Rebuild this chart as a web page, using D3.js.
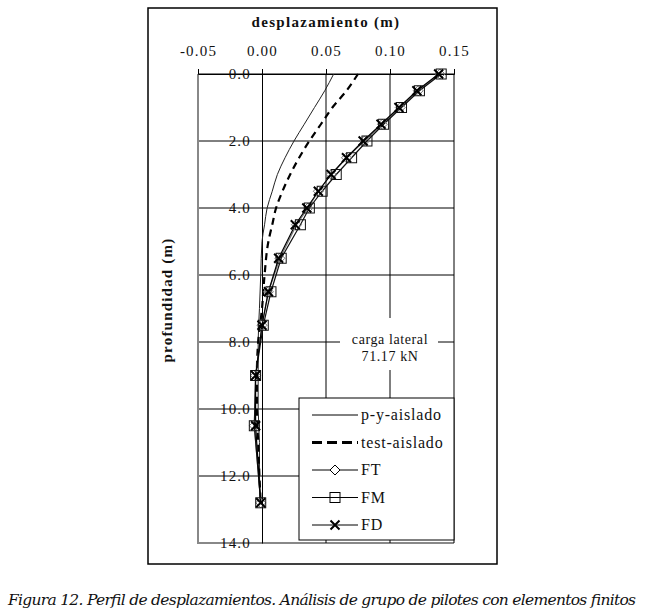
<!DOCTYPE html>
<html>
<head>
<meta charset="utf-8">
<script src="https://cdn.jsdelivr.net/npm/d3@7"></script>
<style>
  body { margin: 0; background: #fff; }
  svg text { font-family: "Liberation Serif", serif; fill: #111; }
</style>
</head>
<body>
<svg id="chart" width="650" height="611"></svg>
<script>
// depths (m) where the FE models were sampled
const depthFE = [0, 0.5, 1, 1.5, 2, 2.5, 3, 3.5, 4, 4.5, 5.5, 6.5, 7.5, 9, 10.5, 12.8];
const seriesFT = [0.139, 0.122, 0.108, 0.094, 0.080, 0.066, 0.054, 0.044, 0.036, 0.027, 0.014, 0.005, 0.000, -0.005, -0.006, -0.001];
const seriesFM = [0.140, 0.123, 0.109, 0.095, 0.082, 0.070, 0.058, 0.047, 0.037, 0.030, 0.015, 0.007, 0.001, -0.005, -0.006, -0.001];
const seriesFD = [0.138, 0.121, 0.107, 0.093, 0.079, 0.066, 0.054, 0.044, 0.035, 0.026, 0.013, 0.005, 0.000, -0.005, -0.005, -0.001];

// isolated pile curves
const depthIso = [0, 0.5, 1, 1.5, 2, 2.5, 3, 3.5, 4, 4.5, 5, 6, 7, 8, 9, 10, 11, 12, 12.8];
const seriesPY = [0.056, 0.049, 0.041, 0.033, 0.025, 0.018, 0.012, 0.008, 0.004, 0.002, 0.000, -0.001, -0.002, -0.003, -0.003, -0.003, -0.002, -0.002, -0.001];
const seriesTest = [0.075, 0.066, 0.055, 0.046, 0.037, 0.029, 0.022, 0.016, 0.011, 0.008, 0.005, 0.002, 0.000, -0.003, -0.004, -0.004, -0.003, -0.002, -0.001];

const xTicks = [-0.05, 0, 0.05, 0.10, 0.15];
const yTicks = [0, 2, 4, 6, 8, 10, 12, 14];
const legendLabels = ['p-y-aislado', 'test-aislado', 'FT', 'FM', 'FD'];

const svg = d3.select('#chart');
const serif = '"Liberation Serif", serif';

// outer frame
svg.append('rect')
    .attr('x', 148).attr('y', 8).attr('width', 349).attr('height', 556)
    .attr('fill', 'none').attr('stroke', '#000').attr('stroke-width', 1.5);

const x = d3.scaleLinear().domain([-0.05, 0.15]).range([198, 454]);
const y = d3.scaleLinear().domain([0, 14]).range([74, 543]);

// horizontal gridlines
svg.append('g')
    .selectAll('line')
    .data(yTicks)
    .join('line')
    .attr('x1', x(-0.05)).attr('x2', x(0.15))
    .attr('y1', d => y(d)).attr('y2', d => y(d))
    .attr('stroke', d => d === 14 ? '#888' : '#000')
    .attr('stroke-width', d => d === 14 ? 2 : 1);

// vertical gridlines
svg.append('g')
    .selectAll('line')
    .data([0.05, 0.10, 0.15])
    .join('line')
    .attr('x1', d => x(d)).attr('x2', d => x(d))
    .attr('y1', y(0)).attr('y2', y(14))
    .attr('stroke', '#000').attr('stroke-width', 1);

// left border is grey
svg.append('line')
    .attr('x1', x(-0.05)).attr('x2', x(-0.05))
    .attr('y1', y(0)).attr('y2', y(14) + 1)
    .attr('stroke', '#888').attr('stroke-width', 2);

// top axis
const fmt = d => d3.format('.2f')(d).replace('\u2212', '-');
const xAxis = svg.append('g')
    .attr('transform', `translate(0,${y(0)})`)
    .call(d3.axisTop(x).tickValues(xTicks).tickSize(5).tickPadding(13).tickFormat(fmt));
xAxis.select('.domain').attr('stroke', '#000');
xAxis.selectAll('text')
    .style('font-family', serif)
    .attr('font-size', 15).attr('letter-spacing', 1.2);

// vertical axis at x = 0
const yAxis = svg.append('g')
    .attr('transform', `translate(${x(0)},0)`)
    .call(d3.axisLeft(y).tickValues(yTicks).tickSize(0).tickPadding(11).tickFormat(d3.format('.1f')));
yAxis.select('.domain').attr('stroke', '#000');
yAxis.selectAll('text')
    .style('font-family', serif)
    .attr('font-size', 15).attr('letter-spacing', 1.2).attr('fill', '#333');

// axis titles
svg.append('text')
    .attr('x', 326).attr('y', 27)
    .attr('text-anchor', 'middle')
    .attr('font-size', 15).attr('font-weight', 'bold').attr('letter-spacing', 1.3)
    .text('desplazamiento (m)');

svg.append('text')
    .attr('transform', 'translate(172,300) rotate(-90)')
    .attr('text-anchor', 'middle')
    .attr('font-size', 15).attr('font-weight', 'bold').attr('letter-spacing', 1.2)
    .text('profundidad (m)');

// lines
const isoLine = vals => d3.line()
    .x((d, i) => x(vals[i]))
    .y(d => y(d))
    .curve(d3.curveMonotoneY)(depthIso);

const feLine = vals => d3.line()
    .x((d, i) => x(vals[i]))
    .y(d => y(d))(depthFE);

svg.append('path')
    .attr('d', isoLine(seriesPY))
    .attr('fill', 'none').attr('stroke', '#222').attr('stroke-width', 1);

svg.append('path')
    .attr('d', isoLine(seriesTest))
    .attr('fill', 'none').attr('stroke', '#000').attr('stroke-width', 2.2)
    .attr('stroke-dasharray', '7,5');

const feSeries = [
    { vals: seriesFT, marker: 'diamond', color: '#777' },
    { vals: seriesFM, marker: 'square', color: '#111' },
    { vals: seriesFD, marker: 'cross', color: '#000' }
];

function drawMarker(g, type, cx, cy, color, fill) {
    if (type === 'diamond') {
        g.append('path')
            .attr('d', `M${cx},${cy - 5}L${cx + 5},${cy}L${cx},${cy + 5}L${cx - 5},${cy}Z`)
            .attr('fill', fill).attr('stroke', color).attr('stroke-width', 1);
    } else if (type === 'square') {
        g.append('rect')
            .attr('x', cx - 5).attr('y', cy - 5).attr('width', 10).attr('height', 10)
            .attr('fill', fill).attr('stroke', color).attr('stroke-width', 1);
    } else {
        g.append('path')
            .attr('d', `M${cx - 4.5},${cy - 4.5}L${cx + 4.5},${cy + 4.5}M${cx - 4.5},${cy + 4.5}L${cx + 4.5},${cy - 4.5}`)
            .attr('stroke', color).attr('stroke-width', 2);
    }
}

feSeries.forEach(s => {
    svg.append('path')
        .attr('d', feLine(s.vals))
        .attr('fill', 'none').attr('stroke', s.color).attr('stroke-width', 1.2);
});
feSeries.forEach(s => {
    const g = svg.append('g');
    depthFE.forEach((d, i) => drawMarker(g, s.marker, x(s.vals[i]), y(d), s.color, 'none'));
});

// load annotation
svg.append('rect')
    .attr('x', 340).attr('y', 318).attr('width', 98).attr('height', 52)
    .attr('fill', '#fff');
svg.append('text')
    .attr('x', x(0.10)).attr('y', 344)
    .attr('text-anchor', 'middle').attr('font-size', 14).attr('letter-spacing', 0.6)
    .text('carga lateral');
svg.append('text')
    .attr('x', x(0.10)).attr('y', 361)
    .attr('text-anchor', 'middle').attr('font-size', 14).attr('letter-spacing', 0.6)
    .text('71.17 kN');

// legend
const legend = svg.append('g');
legend.append('rect')
    .attr('x', 299).attr('y', 398).attr('width', 155).attr('height', 142)
    .attr('fill', '#fff').attr('stroke', '#000').attr('stroke-width', 1);

const rowY = d3.scalePoint().domain(legendLabels).range([415, 525]);
legendLabels.forEach((label, i) => {
    const ry = rowY(label);
    const ln = legend.append('line')
        .attr('x1', 312).attr('x2', 358).attr('y1', ry).attr('y2', ry)
        .attr('stroke', '#000');
    if (i === 1) {
        ln.attr('stroke-width', 3).attr('stroke-dasharray', '10,5');
    } else {
        ln.attr('stroke-width', 1);
    }
    if (i >= 2) {
        drawMarker(legend, feSeries[i - 2].marker, 335, ry, '#000', i === 2 ? '#fff' : 'none');
    }
    legend.append('text')
        .attr('x', 361).attr('y', ry + 5)
        .attr('font-size', 16).attr('letter-spacing', 0.8)
        .text(label);
});

// caption
svg.append('text')
    .attr('x', 8).attr('y', 605)
    .attr('font-size', 15.5).attr('font-style', 'italic')
    .attr('textLength', 628).attr('lengthAdjust', 'spacing')
    .style('font-family', '"DejaVu Serif", serif')
    .text('Figura 12. Perfil de desplazamientos. Análisis de grupo de pilotes con elementos finitos');
</script>
</body>
</html>
